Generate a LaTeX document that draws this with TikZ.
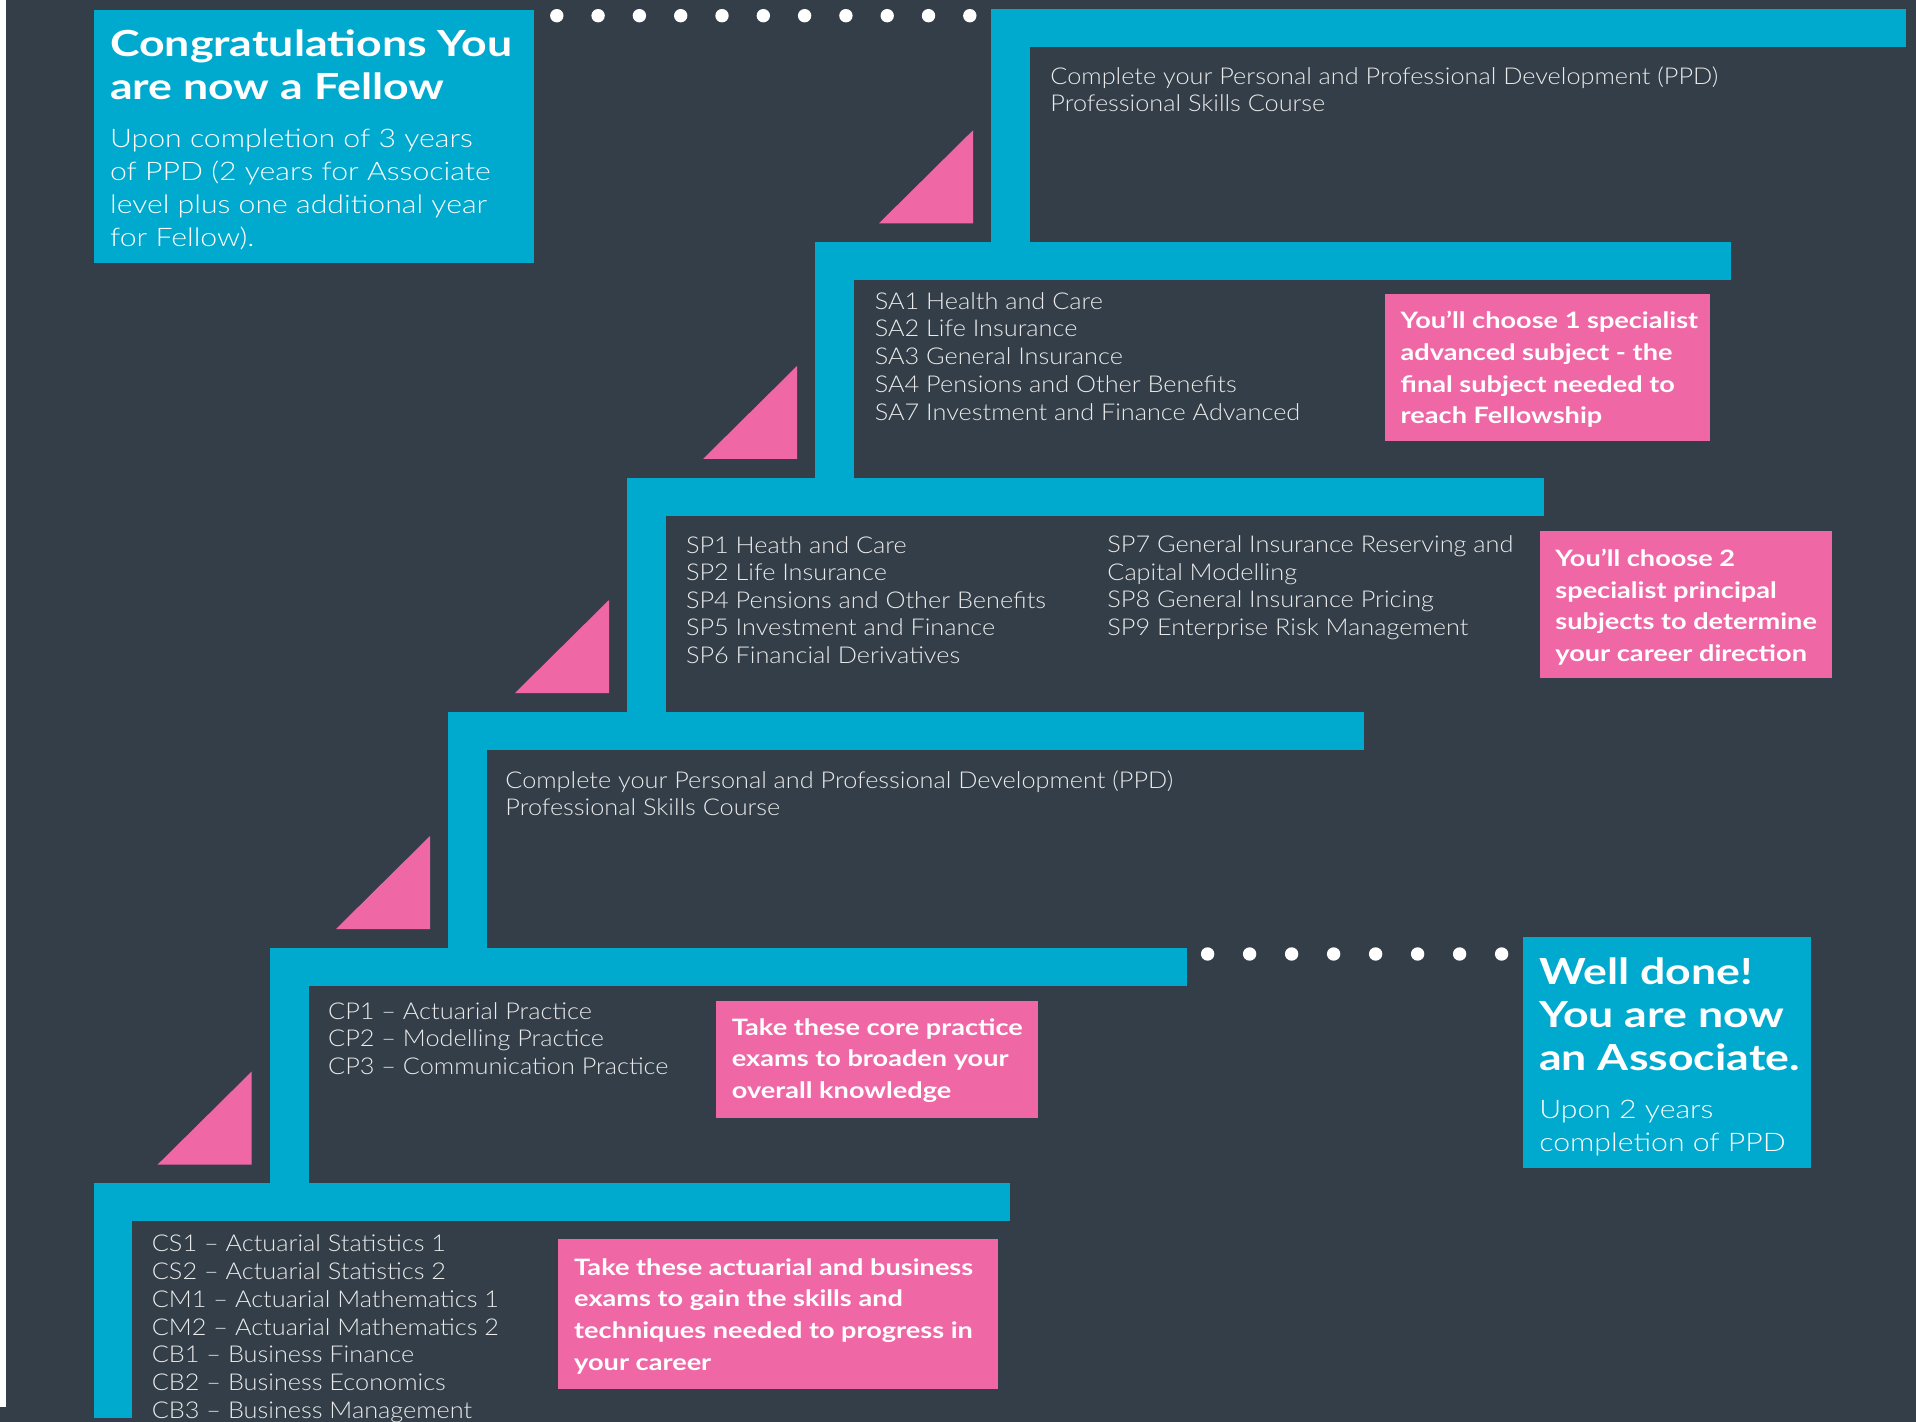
\documentclass[tikz,border=0pt]{standalone}
\usepackage{fontspec}
\setmainfont{Lato}
\IfFontExistsTF{Lato Light}{%
  \newfontfamily\bodyfont{Lato Light}[FakeStretch=1.09]
  \newfontfamily\subfont{Lato Light}[FakeStretch=1.18]
}{%
  \newfontfamily\bodyfont{Lato}[FakeStretch=1.09]
  \newfontfamily\subfont{Lato}[FakeStretch=1.18]
}
\newfontfamily\headfont{Lato}[FakeStretch=1.24]
\newfontfamily\notefont{Lato}[FakeStretch=1.2]
\definecolor{bg}{RGB}{51,62,72}
\definecolor{cyanbar}{RGB}{0,169,206}
\definecolor{pinkc}{RGB}{240,103,166}
\definecolor{txtgray}{RGB}{234,234,234}
\begin{document}
\begin{tikzpicture}[x=0.5pt,y=-0.5pt,
  bar/.style={fill=cyanbar},
  tri/.style={fill=pinkc},
  pinkbox/.style={fill=pinkc},
  bluebox/.style={fill=cyanbar},
  dotc/.style={fill=white},
  body/.style={anchor=base west, inner sep=0pt, text=txtgray, font=\bodyfont\fontsize{11.6}{13}\selectfont},
  note/.style={anchor=base west, inner sep=0pt, text=white, font=\notefont\bfseries\fontsize{11.3}{13}\selectfont},
  head/.style={anchor=base west, inner sep=0pt, text=white, font=\headfont\bfseries\fontsize{18}{21}\selectfont},
  sub/.style={anchor=base west, inner sep=0pt, text=white, font=\subfont\fontsize{12.8}{15}\selectfont},
]
\useasboundingbox (0,0) rectangle (1916,1422);
\fill[bg] (0,0) rectangle (1916,1422);
\fill[white] (0,0) rectangle (5.7,1406.7);

% steps: left x / top y / bar end x / stem bottom y
\foreach \x/\y/\e/\s in {93.5/1183/1010/1418, 270.4/947.7/1186.5/1183, 448.3/712/1364/947.7, 627/478/1544/712, 815/242/1731/478, 991/9/1906/242}{
  \fill[bar] (\x,\y) rectangle (\e,\y+38);
  \fill[bar] (\x,\y) rectangle (\x+38.5,\s);
}

% pink triangles: right x / bottom y
\foreach \r/\b in {251.7/1164.5, 430/929, 609/693, 797/459, 973/223.3}{
  \fill[tri] (\r-94,\b) -- (\r,\b) -- (\r,\b-93) -- cycle;
}

% dots
\foreach \i in {0,...,10} \fill[dotc] (556.8+41.3*\i,15.7) circle[radius=6.7];
\foreach \i in {0,...,7} \fill[dotc] (1207.6+42*\i,954) circle[radius=6.7];

% Fellow box
\fill[bluebox] (94.4,10) rectangle (534.4,263.3);
\node[head] (fel1) at (109.7,56.7) {Congratulations You};
\node[head] (fel2) at (109.7,100) {are now a Fellow};
\foreach \t [count=\i from 0] in {Upon completion of 3 years, of PPD (2 years for Associate, level plus one additional year, for Fellow).}
  \node[sub] (fels\i) at (109.7,148+33*\i) {\t};

% Associate box
\fill[bluebox] (1523.2,937) rectangle (1811.4,1167.7);
\foreach \t [count=\i from 0] in {Well done!, You are now, an Associate.}
  \node[head] (ass\i) at (1538.9,984+43.3*\i) {\t};
\foreach \t [count=\i from 0] in {Upon 2 years, completion of PPD}
  \node[sub] (asss\i) at (1538.9,1118+33.7*\i) {\t};

% PPD top
\foreach \t [count=\i from 0] in {Complete your Personal and Professional Development (PPD), Professional Skills Course}
  \node[body] (ppdA\i) at (1050,85+27*\i) {\t};

% SA
\foreach \t [count=\i from 0] in {SA1 Health and Care, SA2 Life Insurance, SA3 General Insurance, SA4 Pensions and Other Benefits, SA7 Investment and Finance Advanced}
  \node[body] (sa\i) at (874.4,309.3+27.7*\i) {\t};
\fill[pinkbox] (1385.4,294) rectangle (1709.7,440.7);
\foreach \t [count=\i from 0] in {You’ll choose 1 specialist, advanced subject - the, final subject needed to, reach Fellowship}
  \node[note] (san\i) at (1400.3,328.3+31.9*\i) {\t};

% SP
\foreach \t [count=\i from 0] in {SP1 Heath and Care, SP2 Life Insurance, SP4 Pensions and Other Benefits, SP5 Investment and Finance, SP6 Financial Derivatives}
  \node[body] (spl\i) at (685.6,553.3+27.5*\i) {\t};
\foreach \t [count=\i from 0] in {SP7 General Insurance Reserving and, Capital Modelling, SP8 General Insurance Pricing, SP9 Enterprise Risk Management}
  \node[body] (spr\i) at (1107,552.7+27.5*\i) {\t};
\fill[pinkbox] (1540,531) rectangle (1832,677.7);
\foreach \t [count=\i from 0] in {You’ll choose 2, specialist principal, subjects to determine, your career direction}
  \node[note] (spn\i) at (1555,566.7+31.5*\i) {\t};

% PPD 2
\foreach \t [count=\i from 0] in {Complete your Personal and Professional Development (PPD), Professional Skills Course}
  \node[body] (ppdB\i) at (505,788.3+27*\i) {\t};

% CP
\foreach \t [count=\i from 0] in {CP1 – Actuarial Practice, CP2 – Modelling Practice, CP3 – Communication Practice}
  \node[body] (cp\i) at (327.8,1019.3+27.5*\i) {\t};
\fill[pinkbox] (716.2,1001) rectangle (1038.3,1117.7);
\foreach \t [count=\i from 0] in {Take these core practice, exams to broaden your, overall knowledge}
  \node[note] (cpn\i) at (731.5,1035+31.5*\i) {\t};

% CS / CM / CB
\foreach \t [count=\i from 0] in {CS1 – Actuarial Statistics 1, CS2 – Actuarial Statistics 2, CM1 – Actuarial Mathematics 1, CM2 – Actuarial Mathematics 2, CB1 – Business Finance, CB2 – Business Economics, CB3 – Business Management}
  \node[body] (cs\i) at (151.5,1251.7+27.77*\i) {\t};
\fill[pinkbox] (558.4,1239) rectangle (997.5,1388.7);
\foreach \t [count=\i from 0] in {Take these actuarial and business, exams to gain the skills and, techniques needed to progress in, your career}
  \node[note] (csn\i) at (573.8,1275+31.67*\i) {\t};
\end{tikzpicture}
\end{document}
